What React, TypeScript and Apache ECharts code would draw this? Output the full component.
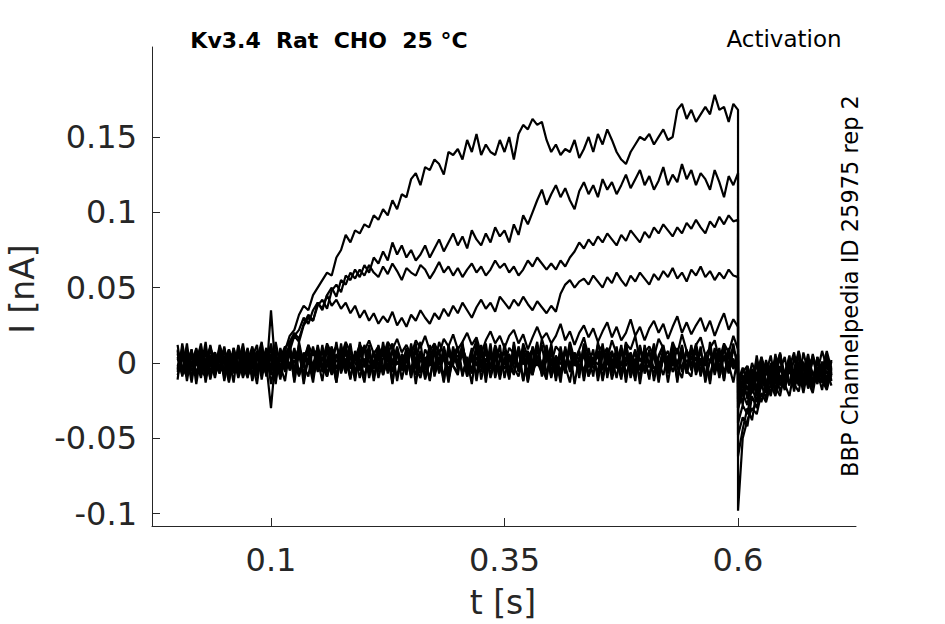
import React, { useEffect, useRef } from "react";
import * as echarts from "echarts";

// Sampling: pulse samples every 5 ms from 0 to 0.6 s (121 values), tail samples every 5 ms from 0.6 to 0.7 s (21 values).
// Values are in pA (converted to nA for the axis).
const SAMPLE_STEP_MS = 5;
const STEP_END_S = 0.6;

const xTickValues = [0.1, 0.35, 0.6];
const yTickValues = [-0.1, -0.05, 0, 0.05, 0.1, 0.15];

const pulse1 = [
  4, -6, 9, -3, 7, -8, 2, 10, -5, 3,
  -9, 6, -2, 8, -7, 1, 11, -4, 5, -8,
  35, -6, 4, 8, 18, 22, 32, 38, 35, 45,
  50, 55, 60, 58, 70, 75, 85, 80, 88, 86,
  92, 90, 98, 95, 102, 98, 108, 102, 112, 110,
  122, 126, 118, 130, 128, 135, 132, 125, 140, 138,
  142, 135, 148, 140, 152, 138, 145, 140, 138, 148,
  140, 150, 135, 152, 158, 155, 162, 158, 160, 148,
  140, 145, 138, 142, 140, 148, 136, 142, 150, 140,
  152, 145, 155, 148, 140, 135, 132, 140, 145, 150,
  148, 152, 145, 150, 155, 148, 150, 168, 172, 162,
  168, 160, 165, 170, 165, 178, 168, 170, 160, 172,
  168,
];
const tail1 = [-98, -50, -38, -30, -34, -20, -26, -14, -22, -8, -18, -4, -15, -10, -2, -17, -6, -12, 0, -14, -7];

const pulse2 = [
  -5, 7, -2, 9, -8, 3, -4, 10, 1, -7,
  5, -10, 8, -3, 6, -6, 2, -9, 7, -1,
  -30, 5, -3, 6, 8, 18, 14, 25, 30, 28,
  38, 42, 36, 48, 52, 47, 58, 55, 62, 57,
  65, 60, 70, 66, 74, 68, 80, 72, 78, 70,
  75, 68, 72, 78, 70, 76, 82, 74, 80, 86,
  78, 84, 76, 88, 82, 78, 86, 80, 90, 84,
  88, 80, 92, 85, 98, 92, 100, 108, 115, 105,
  112, 118, 110, 116, 108, 102, 114, 120, 112, 118,
  110, 122, 115, 120, 112, 118, 125, 116, 122, 128,
  118, 124, 115, 121, 130, 118, 125, 120, 132, 122,
  128, 118, 126, 122, 115, 128, 120, 110, 124, 118,
  126,
];
const tail2 = [-62, -44, -30, -38, -18, -26, -12, -22, -6, -19, -9, -1, -16, -5, -20, -3, -13, 4, -11, -18, -6];

const pulse3 = [
  8, -4, 2, -9, 6, -1, 9, -6, 4, -3,
  11, -7, 3, -5, 8, -2, -8, 6, -4, 9,
  3, -2, 7, 4, 12, 18, 22, 30, 26, 35,
  40, 36, 45, 50, 44, 55, 52, 60, 56, 62,
  58, 65, 60, 57, 64, 59, 66, 61, 55, 63,
  60, 58, 65, 62, 56, 61, 67, 60, 64, 58,
  63, 57, 62, 66, 60, 64, 58, 62, 68, 63,
  66, 60, 64, 58, 62, 68, 64, 70, 66, 62,
  66, 62, 68, 64, 70, 74, 80, 76, 82, 78,
  84, 80, 86, 82, 78, 85, 81, 88, 84, 80,
  87, 83, 90, 86, 92, 88, 84, 90, 86, 93,
  89, 95, 90, 86, 94, 90, 97, 92, 98, 94,
  95,
];
const tail3 = [-48, -36, -42, -22, -30, -14, -24, -6, -19, -2, -14, -22, -5, -15, 1, -12, -20, -3, -9, -16, -4];

const pulse4 = [
  -3, 6, -8, 4, 1, -10, 7, -2, 5, -6,
  2, 9, -4, 7, -9, 4, -1, 8, -5, 3,
  -6, 9, 2, 10, 14, 20, 16, 26, 32, 28,
  40, 35, 45, 38, 42, 36, 40, 33, 38, 30,
  35, 28, 33, 26, 31, 27, 34, 25, 30, 24,
  32, 28, 35, 30, 26, 33, 29, 36, 31, 38,
  33, 40, 35, 30, 37, 42, 36, 40, 34, 44,
  40, 36, 42, 38, 44, 39, 35, 41, 37, 33,
  38, 34, 46, 52, 55, 50, 54, 56, 52, 58,
  54, 50, 57, 53, 60, 55, 51, 58, 54, 60,
  56, 52, 59, 55, 61, 57, 63, 56, 60, 54,
  62, 58, 64, 57, 61, 55, 60, 56, 62, 58,
  57,
];
const tail4 = [-40, -28, -34, -16, -26, -8, -20, -3, -16, -22, -6, 3, -14, -19, -2, -10, -17, 2, -12, -5, -15];

const pulse5 = [
  6, -7, 3, -2, 10, -5, -9, 4, 7, -3,
  -6, 8, 1, -8, 5, -4, 10, -7, 2, -1,
  12, -4, 6, -2, 8, 3, 10, 2, 12, 5,
  9, 1, 13, 6, 11, 4, 14, 7, 3, 12,
  8, 15, 6, 11, 4, 14, 9, 16, 7, 12,
  5, 15, 10, 18, 8, 13, 6, 16, 11, 19,
  9, 14, 20, 12, 17, 6, 15, 21, 13, 18,
  10, 18, 22, 13, 19, 9, 17, 24, 16, 20,
  13, 18, 26, 15, 21, 12, 20, 25, 17, 23,
  14, 21, 27, 17, 24, 15, 20, 29, 18, 24,
  15, 23, 28, 20, 26, 16, 24, 31, 20, 27,
  19, 25, 30, 21, 28, 18, 26, 33, 22, 29,
  24,
];
const tail5 = [-30, -20, -28, -10, -22, -4, -17, -9, 0, -15, -7, 2, -19, -3, -12, 5, -15, -6, -18, 0, -9];

const pulse6 = [
  -8, 2, 7, -5, -1, 9, -6, 3, -10, 5,
  0, -7, 10, -3, 4, -9, 6, -2, -6, 8,
  -14, 3, -5, 8, -2, 6, -8, 4, 10, -3,
  7, -6, 2, 11, -4, 5, -7, 9, 0, -5,
  12, 1, -3, 8, -6, 6, 13, -1, 4, -4,
  10, 2, -7, 9, 3, -2, 14, 5, -5, 7,
  1, 11, -3, 6, 15, 0, 8, -4, 12, 3,
  -1, 10, 6, -6, 13, 4, 9, -2, 16, 5,
  0, 11, 7, -3, 14, 2, 9, 17, 4, -1,
  12, 8, 3, 15, 6, -2, 13, 9, 18, 1,
  7, 11, 4, 16, 10, -1, 14, 6, 19, 8,
  3, 12, 17, 5, 10, 15, 2, 13, 7, 18,
  9,
];
const tail6 = [-24, -14, -22, -6, -18, -1, -12, -20, -4, 3, -13, -2, -17, 1, -10, 6, -16, -6, 0, -14, -5];

const pulse7 = [
  7, -3, -9, 5, 2, -6, 10, -1, -8, 4,
  -5, 9, -2, 6, -10, 3, -4, 8, 1, -7,
  6, -8, 3, 11, -5, 2, -9, 7, -1, 10,
  -6, 4, -3, 9, -8, 1, 12, -4, 5, -10,
  3, -7, 8, -2, 10, -5, 0, -9, 6, 2,
  -4, 9, -6, 3, -11, 7, -1, 5, -8, 11,
  -2, 6, -9, 4, 0, -6, 10, -3, 8, -7,
  2, -10, 7, -4, 9, 1, -8, 5, -2, 12,
  -5, 3, -9, 8, -1, 6, -7, 10, -3, 4,
  -8, 11, 0, -6, 7, -2, 9, -10, 3, -4,
  8, -1, -7, 5, 12, -3, 2, -9, 6, -5,
  10, -6, 3, -2, 9, -8, 4, -11, 7, 1,
  -3,
];
const tail7 = [-20, -12, -4, -16, -6, -14, 2, -10, -19, -3, -8, 5, -12, -2, -16, 3, -7, -14, 1, -11, 2];

const pulse8 = [
  -2, 8, -6, 1, -9, 6, -3, 11, -7, 2,
  9, -4, 5, -10, 0, 7, -8, 4, -1, 10,
  -5, 3, -11, 6, -2, 9, -6, 1, 8, -9,
  4, -3, 10, -7, 2, -1, 7, -10, 5, -4,
  11, -6, 1, 8, -8, 3, -5, 9, -2, 6,
  -9, 2, 7, -4, 10, -7, 0, 6, -11, 4,
  -1, 9, -5, 3, -8, 12, -3, 5, -6, 1,
  8, -9, 4, -2, 6, -7, 11, 0, -4, 7,
  -10, 5, -1, 9, -6, 2, -3, 8, -8, 3,
  6, -5, 10, -2, 4, -9, 1, 7, -4, 11,
  -7, 0, 5, -10, 3, 8, -6, 2, -3, 9,
  -5, 4, -8, 6, 1, -2, 10, -7, 5, -4,
  2,
];
const tail8 = [-16, -8, -18, -4, -12, 0, -16, -6, 3, -11, -5, -15, 4, -9, -2, -13, 6, -8, -3, -12, 1];

const pulse9 = [
  3, -8, 6, -1, 9, -5, 2, -10, 7, -3,
  1, -6, 10, -4, 5, -9, 3, 7, -7, 0,
  9, -2, -7, 4, -4, 10, -8, 2, 6, -6,
  -1, 8, -9, 3, 5, -5, 10, -2, -8, 6,
  0, -4, 7, -10, 3, 9, -6, 1, -3, 8,
  5, -8, 2, -1, 11, -5, 4, -9, 7, -2,
  -6, 10, 1, -7, 4, -3, 8, -10, 2, 6,
  -4, 3, -8, 11, -1, 5, -6, 9, -2, -9,
  7, -3, 4, -7, 10, 0, -5, 6, -9, 2,
  -1, 9, -6, 3, -10, 8, -2, 5, -4, 10,
  1, -8, 6, -3, 9, -6, 3, -1, 11, -7,
  4, -2, 8, -9, 2, 6, -5, 10, -3, 0,
  -4,
];
const tail9 = [-14, -6, -2, -12, 2, -8, -15, 0, -6, 5, -11, -3, 7, -9, -1, -13, 3, -5, -10, 2, -3];

const pulse10 = [
  -6, 4, -1, 8, -7, 3, -4, 9, -2, 6,
  -8, 2, 7, -5, 0, 10, -9, 5, -3, 4,
  -2, 7, -6, 1, 9, -4, 5, -7, 3, -1,
  10, -5, 2, -8, 6, -3, 8, -1, -6, 3,
  -9, 5, 0, -4, 9, -7, 2, 6, -5, 1,
  8, -3, -10, 4, -2, 7, -6, 11, -1, 3,
  5, -7, 2, -4, 9, -1, -8, 4, 7, -5,
  0, 6, -3, -9, 3, 8, -5, 1, -7, 10,
  -2, 4, -6, 9, -4, 1, 7, -8, 3, -1,
  5, -9, 2, 8, -3, -6, 4, -1, 9, -5,
  3, 7, -4, 1, -8, 5, -2, 10, -6, 2,
  -1, 8, -5, 3, -9, 6, -3, 4, -7, 9,
  1,
];
const tail10 = [-12, -3, -14, 0, -9, 4, -6, -13, -2, 6, -8, 1, -12, 5, -4, -10, 3, -6, 8, -3, -8];

const pulse11 = [
  12, -9, 5, -13, 8, -4, 14, -11, 3, -7,
  10, -12, 6, -2, 13, -8, 1, -14, 9, -5,
  13, -10, 4, -6, 11, -13, 7, -3, 12, -9,
  2, -12, 10, -5, 14, -7, 3, -11, 8, -1,
  -13, 9, -4, 12, -8, 6, -14, 11, -2, 7,
  -10, 13, -6, 3, -12, 10, -1, 8, -13, 5,
  11, -7, 2, -14, 9, -3, 13, -9, 6, -11,
  4, -8, 12, -5, 10, -12, 1, 14, -6, 8,
  -9, 3, -13, 11, -4, 7, -10, 13, -2, 9,
  -12, 5, 10, -7, 2, -11, 12, -3, 8, -14,
  6, -1, 13, -9, 4, -6, 11, -13, 9, -4,
  12, -8, 3, -10, 14, -5, 7, -12, 10, -2,
  6,
];
const tail11 = [-26, -10, -24, -4, -18, 4, -16, -2, -14, 7, -12, 0, -17, 8, -9, -15, 5, -7, -13, 6, -8];

const pulse12 = [
  -11, 13, -4, 9, -14, 6, -8, 12, -2, 10,
  -7, 3, -13, 11, -5, 8, -12, 2, 14, -9,
  5, -11, 9, -3, 13, -8, 10, -14, 4, -6,
  12, -2, -9, 7, -13, 11, -4, 9, -10, 14,
  -3, 8, -12, 5, -7, 13, -1, 10, -11, 3,
  9, -14, 6, -5, 12, -9, 4, -13, 11, -2,
  -8, 12, -3, 10, -12, 7, -6, 13, -10, 2,
  8, -11, 14, -4, 6, -13, 9, -1, 12, -7,
  3, -10, 11, -6, 13, -2, 8, -12, 5, -9,
  14, -4, 7, -11, 2, 10, -13, 6, -8, 12,
  -5, 9, -12, 4, 11, -7, 13, -3, -10, 8,
  -2, 11, -9, 6, -14, 10, -4, 12, -6, 3,
  -8,
];
const tail12 = [-6, -22, -2, -18, 5, -14, 0, -16, 6, -11, -15, 3, -8, -13, 7, -6, -12, 4, -10, -2, 1];

const pulse13 = [
  9, -6, 13, -10, 2, 11, -13, 5, -3, 8,
  -12, 4, -7, 12, -1, -10, 9, -5, 13, -8,
  6, -14, 10, -4, 7, -11, 14, -2, -9, 11,
  -5, 12, -8, 3, -13, 6, -1, 13, -7, 4,
  10, -10, 2, -6, 14, -4, 9, -12, 5, -8,
  13, -3, 8, -11, 1, 12, -7, 4, -10, 9,
  -4, 14, -9, 6, -2, 11, -13, 8, -5, 12,
  -10, 5, -1, 10, -12, 3, -8, 11, -3, -11,
  13, -6, 9, -2, -13, 7, -5, 12, -9, 1,
  8, -12, 4, -4, 11, -8, 14, -6, 2, -10,
  12, -3, 7, -13, 5, -1, 10, -11, 8, -5,
  -9, 13, -2, 4, -12, 9, -7, 11, -1, -13,
  5,
];
const tail13 = [-30, -18, -8, -20, 0, -15, -7, 5, -13, -5, 4, -14, -4, 8, -11, 0, -16, 2, -7, 5, -12];

const pulse14 = [
  -4, 10, -12, 7, -1, 13, -9, 3, -6, 12,
  2, -13, 8, -3, 11, -6, 4, 12, -11, 6,
  -8, 14, -2, -12, 9, -5, 12, -9, 2, -13,
  8, -4, 11, -1, -10, 13, -6, 5, -12, 9,
  -2, 12, -9, 4, -5, 11, -13, 7, -3, 10,
  -7, 2, 14, -10, 6, -4, 9, -12, 12, -1,
  10, -9, 4, -6, 13, -11, 3, -2, 11, -8,
  13, -3, -7, 9, -12, 6, -4, 12, -9, 2,
  11, -12, 6, -1, 9, -14, 4, -6, 10, -3,
  -5, 13, -10, 7, -3, 12, -8, 2, -12, 9,
  3, -11, 10, -5, 8, -13, 6, -2, 12, -7,
  9, -4, 11, -13, 2, 8, -10, 5, -3, 13,
  -6,
];
const tail14 = [-12, -28, -4, -20, -10, 3, -17, -3, -9, 6, -14, -1, -8, 7, -15, -2, 4, -10, -5, 8, -4];

const traces = [
  [pulse11, tail11],
  [pulse12, tail12],
  [pulse13, tail13],
  [pulse14, tail14],
  [pulse7, tail7],
  [pulse8, tail8],
  [pulse9, tail9],
  [pulse10, tail10],
  [pulse6, tail6],
  [pulse5, tail5],
  [pulse4, tail4],
  [pulse3, tail3],
  [pulse2, tail2],
  [pulse1, tail1],
];

const FONT = "DejaVu Sans";
const AXIS_COLOR = "#262626";

function buildData(pulse: number[], tail: number[]) {
  const d: [number, number][] = [];
  pulse.forEach((v, i) => d.push([(i * SAMPLE_STEP_MS) / 1000, v / 1000]));
  tail.forEach((v, j) => d.push([STEP_END_S + (j * SAMPLE_STEP_MS) / 1000, v / 1000]));
  return d;
}

export default function App() {
  const ref = useRef<HTMLDivElement>(null);
  useEffect(() => {
    if (!ref.current) return;
    const chart = echarts.init(ref.current, undefined, { renderer: "svg" });
    const fmt = (v: number) => String(+v.toFixed(3));
    chart.setOption({
      animation: false,
      backgroundColor: "#ffffff",
      grid: { left: 152, right: 89, top: 47, bottom: 98, containLabel: false },
      xAxis: {
        type: "value",
        min: -0.0274,
        max: 0.7263,
        axisLine: { show: true, onZero: false, lineStyle: { color: AXIS_COLOR, width: 1 } },
        axisTick: { show: true, inside: true, length: 8, customValues: xTickValues, lineStyle: { color: AXIS_COLOR } },
        axisLabel: {
          customValues: xTickValues,
          formatter: fmt,
          color: AXIS_COLOR,
          fontFamily: FONT,
          fontSize: 32,
          margin: 18,
        },
        splitLine: { show: false },
      },
      yAxis: {
        type: "value",
        min: -0.1082,
        max: 0.2097,
        axisLine: { show: true, onZero: false, lineStyle: { color: AXIS_COLOR, width: 1 } },
        axisTick: { show: true, inside: true, length: 8, customValues: yTickValues, lineStyle: { color: AXIS_COLOR } },
        axisLabel: {
          customValues: yTickValues,
          formatter: fmt,
          color: AXIS_COLOR,
          fontFamily: FONT,
          fontSize: 32,
          margin: 15,
        },
        splitLine: { show: false },
      },
      series: traces.map(([p, t], k) => ({
        type: "line",
        name: "trace" + k,
        data: buildData(p, t),
        showSymbol: false,
        symbol: "none",
        lineStyle: { color: "#000000", width: 2.2 },
        silent: true,
      })),
      graphic: [
        {
          type: "text",
          x: 329,
          y: 40,
          style: {
            text: "Kv3.4  Rat  CHO  25 °C",
            fontFamily: FONT,
            fontWeight: "bold",
            fontSize: 22,
            fill: "#000000",
            textAlign: "center",
            textVerticalAlign: "middle",
          },
        },
        {
          type: "text",
          x: 784,
          y: 39,
          style: {
            text: "Activation",
            fontFamily: FONT,
            fontSize: 23,
            fill: "#000000",
            textAlign: "center",
            textVerticalAlign: "middle",
          },
        },
        {
          type: "text",
          x: 850,
          y: 286,
          rotation: Math.PI / 2,
          style: {
            text: "BBP Channelpedia ID 25975 rep 2",
            fontFamily: FONT,
            fontSize: 22.5,
            fill: "#000000",
            textAlign: "center",
            textVerticalAlign: "middle",
          },
        },
        {
          type: "text",
          x: 22,
          y: 289,
          rotation: Math.PI / 2,
          style: {
            text: "I [nA]",
            fontFamily: FONT,
            fontSize: 33,
            fill: AXIS_COLOR,
            textAlign: "center",
            textVerticalAlign: "middle",
          },
        },
        {
          type: "text",
          x: 503,
          y: 602,
          style: {
            text: "t [s]",
            fontFamily: FONT,
            fontSize: 33,
            fill: AXIS_COLOR,
            textAlign: "center",
            textVerticalAlign: "middle",
          },
        },
      ],
    });
    return () => chart.dispose();
  }, []);
  return (
    <div
      ref={ref}
      style={{ position: "absolute", left: 0, top: 0, width: 945, height: 624 }}
    />
  );
}
